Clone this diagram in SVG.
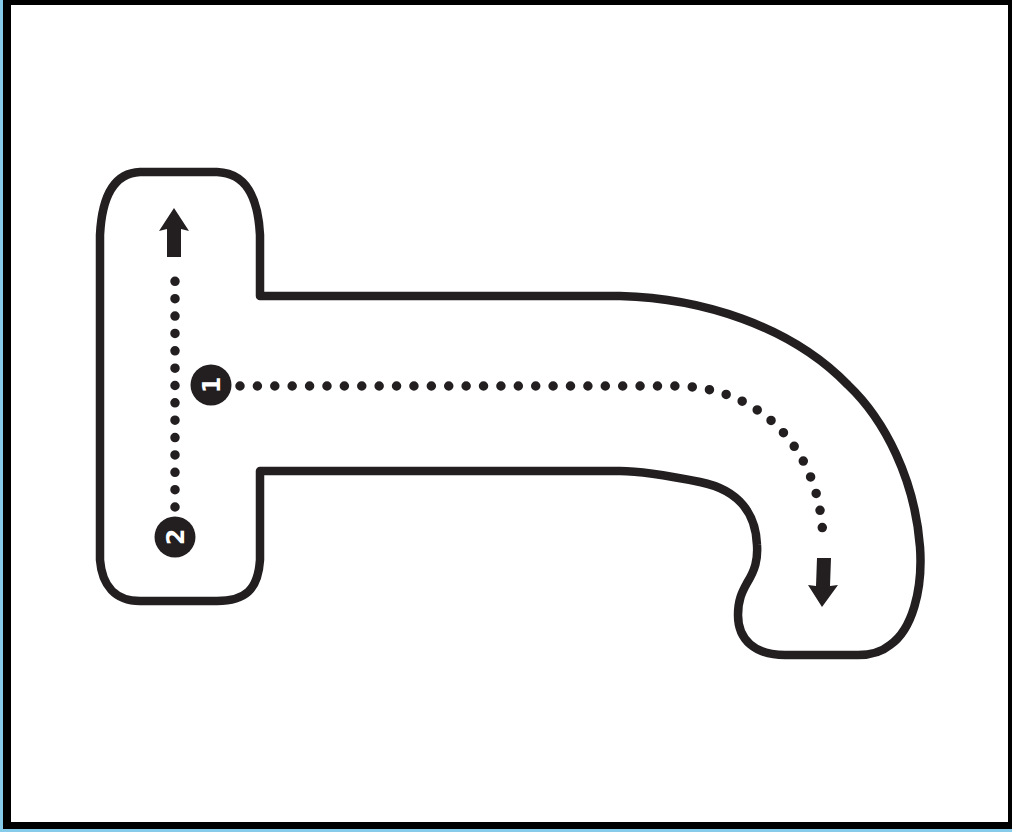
<svg xmlns="http://www.w3.org/2000/svg" width="1012" height="832" viewBox="0 0 1012 832">
<style>
.ink{fill:#231f20}
.outline{fill:none;stroke:#231f20;stroke-width:8.5;stroke-linejoin:round}
.dots{fill:none;stroke:#231f20;stroke-width:9.5;stroke-linecap:round}
.num{fill:#fff;font-family:"DejaVu Sans","Liberation Sans",sans-serif;font-weight:bold;font-size:24px;text-anchor:middle;dominant-baseline:central}
</style>
<g id="frame">
<rect x="0" y="0" width="1012" height="832" fill="#86cbe9"/>
<rect x="3" y="0" width="1009" height="829" fill="#000"/>
<rect x="11" y="5" width="997" height="817" fill="#fff"/>
</g>
<g id="letter-outline">
<path class="outline" d="M140,172 L217,172 C245,173 258,195 260,235 L260,296 L620,296 C700,298 790,325 848,385 C885,420 915,480 920,547 C923,590 912,630 890,645 Q878,655 858,655 L785,655 C755,655 738,640 738,615 C738,600 742,592 747,583 C755,570 758,560 757,545 C756,515 740,490 700,482 C670,476 640,471 620,471 L260,471 L260,560 C258,590 245,601 217,601 L140,601 C115,601 102,585 100,560 L100,235 C102,195 115,173 140,172 Z"/>
</g>
<g id="connectors">
<path class="dots" d="M175,507 L175,264" pathLength="14" stroke-dasharray="0 1"/>
<polygon class="ink" points="167,257 181,257 181,229 189,231 174,208 159,231 167,229"/>
<path class="dots" d="M240,386 L675,386 C760,386 823,450 823,545" pathLength="39" stroke-dasharray="0 1"/>
<polygon class="ink" points="817,558 831,558 830,586 838,585 822,607 808,585 816,586"/>
</g>
<g id="start-1">
<circle class="ink" cx="211" cy="385" r="20.5"/>
<text class="num" x="211" y="386" transform="rotate(-90 211 385)">1</text>
</g>
<g id="start-2">
<circle class="ink" cx="175" cy="537" r="20.5"/>
<text class="num" x="175" y="538" transform="rotate(-90 175 537)">2</text>
</g>
</svg>
